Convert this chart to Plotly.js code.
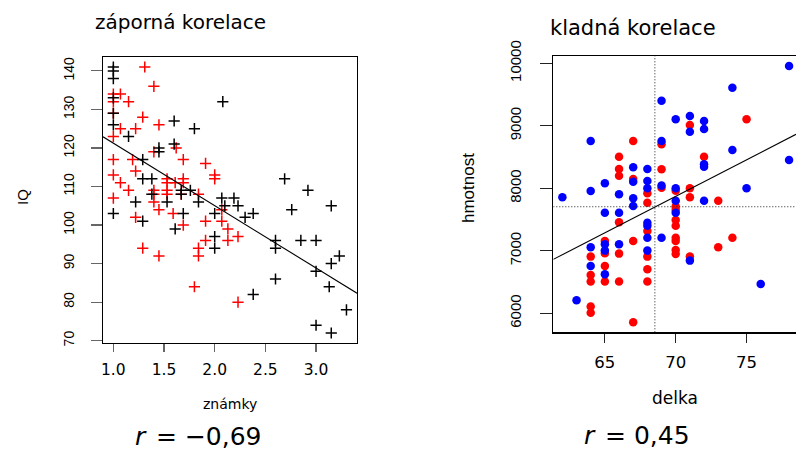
<!DOCTYPE html>
<html>
<head>
<meta charset="utf-8">
<script src="https://cdn.plot.ly/plotly-3.0.1.min.js"></script>
<style>
html,body{margin:0;padding:0;background:#fff;}
#chart{width:796px;height:451px;}
</style>
</head>
<body>
<div id="chart"></div>
<script>
// ---- Left panel: grades (známky) vs IQ ----
const leftBlackX = [1.0,1.0,1.0,1.0,1.0,1.0,1.0, 1.15,1.22,1.29,1.29,1.38,1.29,1.38, 1.45,1.45,1.53,1.60,1.60,1.80,2.08, 1.67,1.76,1.67,1.69,1.61,1.84, 2.0,2.07,2.19,2.10,2.23,2.30,2.38, 2.0,2.0,2.69,2.92,2.76,3.15, 2.60,2.60,2.85,3.0,3.15,3.23,3.0,2.60,3.13,2.38,3.30,3.0,3.15];
const leftBlackY = [141,140,138,133,129,126,103, 123,106,117,112,112,101,108, 120,119,106,127,121,125,132, 109,109,108,103,99,106, 103,107,107,105,105,102,103, 97,94,112,109,104,105, 96,94,96,96,90,92,88,86,84,82,78,74,72];
const leftRedX = [1.0,1.0,1.0,1.0,1.0,1.0,1.0, 1.07,1.07,1.07, 1.15,1.15, 1.19,1.22,1.22,1.22, 1.31,1.29,1.29, 1.40,1.40,1.40,1.40,1.40,1.45,1.45,1.45, 1.53,1.53,1.53,1.53, 1.61,1.62,1.59,1.69,1.69,1.69,1.69,1.67, 1.84,1.91,2.0,2.0,2.07,1.91,2.07, 2.13,1.91,2.13,2.23,1.84,1.84,1.80,2.23];
const leftRedY = [134,132,129,123,117,113,107, 134,125,111, 132,109, 117,125,114,102, 141,128,94, 136,119,109,108,106,126,104,92, 112,111,109,108, 111,120,103,117,112,111,100,108, 108,116,113,112,104,101,101, 99,96,96,97,94,92,84,80];
const leftFit = {intercept: 137.45, slope: -16.2};
const leftXRange = [0.898, 3.404];
const leftYRange = [69.4, 143.6];

// ---- Right panel: height (delka) vs weight (hmotnost) ----
const rightBlueX = [62,63,64,64,64,64,65,65,65,65,65,66,66,66,67,67,67,67,68,68,68,68,68,68,68,69,69,69,69,70,70,70,70,71,71,71,72,72,72,72,72,74,74,75,76,78,78];
const rightBlueY = [7856,6208,8757,7957,7056,6757,8080,7610,7104,7003,6624,7904,7610,7104,8336,8106,7840,7717,8309,8117,8000,7450,7402,7210,7003,9402,8757,8043,7210,8000,7802,7610,9104,9157,8906,6843,9077,8949,8384,8346,7802,9610,8613,8000,6469,9957,8453];
const rightRedX = [64,64,64,64,64, 65,65,65,65, 66,66,66,66,66,66, 67,67,67,67, 68,68,68,68,68,68, 69,69,69, 70,70,70,70,70,70,70,70,70, 71,71,71,71, 72, 73,73, 74, 75];
const rightRedY = [6907,6613,6507,6107,6010, 7157,6960,6757,6507, 8506,8309,8202,7456,6955,6507, 8757,8149,7157,5856, 7920,7770,7317,6907,6704,6507, 8704,8304,8010, 7960,7707,7653,7493,7402,7210,7157,7013,6950, 9013,8000,7856,6907, 8506, 7802,7056, 7210, 9104];
const rightFit = {intercept: -304, slope: 116.8};
const rightMeans = {x: 68.53, y: 7705};
const rightXRange = [61.36, 78.49];
const rightYRange = [5696, 10117];

const texts = {
  leftTitle: 'záporná korelace', rightTitle: 'kladná korelace',
  leftX: 'známky', leftY: 'IQ', rightX: 'delka', rightY: 'hmotnost',
  rSymbol: 'r', leftR: '= −0,69', rightR: '= 0,45'
};

const W = 796, H = 451;
const px = v => v / W, py = v => 1 - v / H;

const crossMarker = c => ({symbol: 'cross-thin-open', size: 8, line: {color: c, width: 1.5}, color: c});
const dotMarker = c => ({symbol: 'circle', size: 8.5, color: c, line: {width: 0}});

const fitLine = (fit, r) => r.map(x => fit.intercept + fit.slope * x);

const traces = [
  {x: leftRedX, y: leftRedY, type: 'scatter', mode: 'markers', marker: crossMarker('#ff0000'), xaxis: 'x', yaxis: 'y', hoverinfo: 'none'},
  {x: leftBlackX, y: leftBlackY, type: 'scatter', mode: 'markers', marker: crossMarker('#000000'), xaxis: 'x', yaxis: 'y', hoverinfo: 'none'},
  {x: leftXRange, y: fitLine(leftFit, leftXRange), type: 'scatter', mode: 'lines', line: {color: '#000', width: 1.1}, xaxis: 'x', yaxis: 'y', hoverinfo: 'none'},
  {x: rightRedX, y: rightRedY, type: 'scatter', mode: 'markers', marker: dotMarker('#ff0000'), xaxis: 'x2', yaxis: 'y2', hoverinfo: 'none'},
  {x: rightBlueX, y: rightBlueY, type: 'scatter', mode: 'markers', marker: dotMarker('#0000ff'), xaxis: 'x2', yaxis: 'y2', hoverinfo: 'none'},
  {x: rightXRange, y: fitLine(rightFit, rightXRange), type: 'scatter', mode: 'lines', line: {color: '#000', width: 1.1}, xaxis: 'x2', yaxis: 'y2', hoverinfo: 'none'},
  {x: [rightMeans.x, rightMeans.x], y: rightYRange, type: 'scatter', mode: 'lines', line: {color: '#222', width: 1, dash: '1px,2px'}, xaxis: 'x2', yaxis: 'y2', hoverinfo: 'none'},
  {x: rightXRange, y: [rightMeans.y, rightMeans.y], type: 'scatter', mode: 'lines', line: {color: '#222', width: 1, dash: '1px,2px'}, xaxis: 'x2', yaxis: 'y2', hoverinfo: 'none'}
];

const axBase = {showgrid: false, zeroline: false, showline: true, linecolor: '#000', linewidth: 1.2, ticks: 'outside', tickwidth: 1.2, fixedrange: true};
const sansX = {family: 'DejaVu Sans, sans-serif', size: 15.5, color: '#000'};
const sansY = {family: 'Liberation Sans, Arial, sans-serif', size: 14, color: '#000'};
const rFont = {family: 'DejaVu Sans, sans-serif', size: 25, color: '#000'};
const rItalic = Object.assign({}, rFont, {style: 'italic'});

const ann = (text, x, y, font, extra) => Object.assign({text: text, x: px(x), y: py(y), xref: 'paper', yref: 'paper', showarrow: false,
  xanchor: 'center', yanchor: 'middle', font: font}, extra || {});

const layout = {
  width: W, height: H,
  margin: {l: 0, r: 0, t: 0, b: 0},
  paper_bgcolor: '#fff', plot_bgcolor: '#fff',
  showlegend: false,
  xaxis: Object.assign({}, axBase, {domain: [px(103), px(357)], range: leftXRange, anchor: 'y', mirror: true,
    tick0: 1, dtick: 0.5, tickformat: '.1f', ticklen: 8, tickcolor: '#666', tickfont: sansX, ticklabelstandoff: 4}),
  yaxis: Object.assign({}, axBase, {domain: [py(343), py(57)], range: leftYRange, anchor: 'x', mirror: true,
    tick0: 70, dtick: 10, ticklen: 11, tickcolor: '#666', tickangle: -90, tickfont: sansY, ticklabelstandoff: 11}),
  xaxis2: Object.assign({}, axBase, {domain: [px(553.3), 1], range: rightXRange, anchor: 'y2', mirror: true,
    tick0: 65, dtick: 5, ticklen: 9, tickcolor: '#222', tickfont: Object.assign({}, sansX, {size: 16.5}), ticklabelstandoff: 6}),
  yaxis2: Object.assign({}, axBase, {domain: [py(332.3), py(56)], range: rightYRange, anchor: 'x2', mirror: false,
    tick0: 6000, dtick: 1000, tickformat: 'd', ticklen: 12, tickcolor: '#222', tickangle: -90,
    tickfont: Object.assign({}, sansY, {size: 15}), ticklabelstandoff: 13}),
  annotations: [
    ann(texts.leftTitle, 180, 22, {family: 'DejaVu Sans, sans-serif', size: 20, color: '#000'}),
    ann(texts.rightTitle, 633, 28, {family: 'DejaVu Sans, sans-serif', size: 21, color: '#000'}),
    ann(texts.leftY, 23, 197, {family: 'Liberation Sans, Arial, sans-serif', size: 15, color: '#000'}, {textangle: -90}),
    ann(texts.rightY, 468, 188, {family: 'Liberation Sans, Arial, sans-serif', size: 17, color: '#000'}, {textangle: -90}),
    ann(texts.leftX, 230, 404, {family: 'DejaVu Sans, sans-serif', size: 14, color: '#000'}),
    ann(texts.rightX, 675, 398, {family: 'DejaVu Sans, sans-serif', size: 17, color: '#000'}),
    ann(texts.rSymbol, 141, 436, rItalic),
    ann(texts.leftR, 154, 436, rFont, {xanchor: 'left'}),
    ann(texts.rSymbol, 590, 435, rItalic),
    ann(texts.rightR, 603, 435, rFont, {xanchor: 'left'})
  ]
};

Plotly.newPlot('chart', traces, layout, {staticPlot: true, displayModeBar: false});
</script>
</body>
</html>
